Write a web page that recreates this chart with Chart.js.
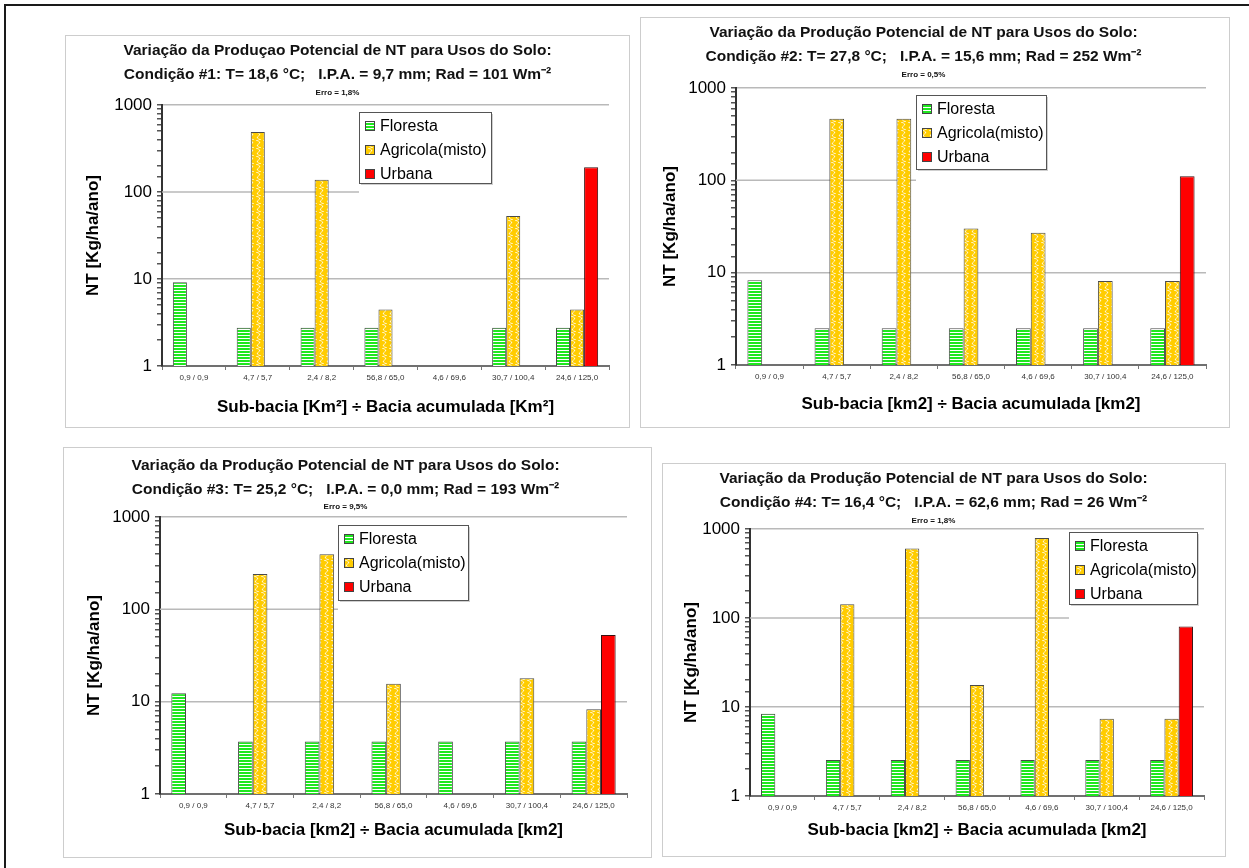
<!DOCTYPE html>
<html>
<head>
<meta charset="utf-8">
<script src="https://cdn.jsdelivr.net/npm/chart.js@4.4.0/dist/chart.umd.min.js"></script>
<style>
  body { margin: 0; background: #fff; width: 1249px; height: 868px; position: relative; overflow: hidden; }
  .outer { position: absolute; left: 4px; top: 4px; width: 1300px; height: 900px; border-left: 2px solid #1a1a1a; border-top: 2px solid #1a1a1a; }
  .panel { position: absolute; border: 1px solid #cdcdcd; background: #fff; }
  .panel canvas { display: block; }
</style>
</head>
<body>
<div class="outer"></div>
<div class="panel" id="p1"><canvas id="c1"></canvas></div>
<div class="panel" id="p2"><canvas id="c2"></canvas></div>
<div class="panel" id="p3"><canvas id="c3"></canvas></div>
<div class="panel" id="p4"><canvas id="c4"></canvas></div>
<script>
// dados
const categories = ["0,9 / 0,9", "4,7 / 5,7", "2,4 / 8,2", "56,8 / 65,0", "4,6 / 69,6", "30,7 / 100,4", "24,6 / 125,0"];
const seriesNames = ["Floresta", "Agricola(misto)", "Urbana"];
const yTicks = [1, 10, 100, 1000];

const floresta1 = [9.2, 2.75, 2.75, 2.75, null, 2.75, 2.75];
const agricola1 = [null, 490, 138, 4.45, null, 53, 4.45];
const urbana1   = [null, null, null, null, null, null, 192];

const floresta2 = [8.3, 2.5, 2.5, 2.5, 2.5, 2.5, 2.5];
const agricola2 = [null, 465, 465, 30, 27, 8.1, 8.1];
const urbana2   = [null, null, null, null, null, null, 111];

const floresta3 = [12.3, 3.7, 3.7, 3.7, 3.7, 3.7, 3.7];
const agricola3 = [null, 241, 395, 15.6, null, 17.9, 8.3];
const urbana3   = [null, null, null, null, null, null, 52.6];

const floresta4 = [8.4, 2.53, 2.53, 2.53, 2.53, 2.53, 2.53];
const agricola4 = [null, 143, 604, 17.7, 794, 7.36, 7.36];
const urbana4   = [null, null, null, null, null, null, 80];

const titles1 = ["Variação da Produçao Potencial de NT para Usos do Solo:", "Condição #1: T= 18,6 °C;   I.P.A. = 9,7 mm; Rad = 101 Wm⁻²"];
const titles2 = ["Variação da Produção Potencial de NT para Usos do Solo:", "Condição #2: T= 27,8 °C;   I.P.A. = 15,6 mm; Rad = 252 Wm⁻²"];
const titles3 = ["Variação da Produção Potencial de NT para Usos do Solo:", "Condição #3: T= 25,2 °C;   I.P.A. = 0,0 mm; Rad = 193 Wm⁻²"];
const titles4 = ["Variação da Produção Potencial de NT para Usos do Solo:", "Condição #4: T= 16,4 °C;   I.P.A. = 62,6 mm; Rad = 26 Wm⁻²"];
const erros = ["Erro = 1,8%", "Erro = 0,5%", "Erro = 9,5%", "Erro = 1,8%"];
const yTitle = "NT [Kg/ha/ano]";
const xTitleKm = "Sub-bacia [Km²] ÷ Bacia acumulada [Km²]";
const xTitlekm = "Sub-bacia [km2] ÷ Bacia acumulada [km2]";

Chart.defaults.font.family = '"Liberation Sans", Arial, sans-serif';
Chart.defaults.color = "#000";

// posição de cada quadro na página
const panels = [
  { id: "1", left: 65, top: 35, w: 565, h: 393, plot: { l: 96, r: 20, b: 61 }, t1: 15, te: 57, pt: 69, yt: 27, xt: 20,
    legend: { x: 293, y: 76, w: 132, h: 71 }, titles: titles1, erro: erros[0], xTitle: xTitleKm,
    data: [floresta1, agricola1, urbana1] },
  { id: "2", left: 640, top: 17, w: 590, h: 411, plot: { l: 95, r: 23, b: 62 }, t1: 15, te: 57, pt: 70, yt: 29, xt: 23,
    legend: { x: 275, y: 77, w: 130, h: 74 }, titles: titles2, erro: erros[1], xTitle: xTitlekm,
    data: [floresta2, agricola2, urbana2] },
  { id: "3", left: 63, top: 447, w: 589, h: 411, plot: { l: 96, r: 24, b: 63 }, t1: 18, te: 59, pt: 69, yt: 30, xt: 27,
    legend: { x: 274, y: 77, w: 130, h: 75 }, titles: titles3, erro: erros[2], xTitle: xTitlekm,
    data: [floresta3, agricola3, urbana3] },
  { id: "4", left: 662, top: 463, w: 564, h: 394, plot: { l: 87, r: 21, b: 60 }, t1: 15, te: 57, pt: 65, yt: 28, xt: 26,
    legend: { x: 406, y: 68, w: 128, h: 72 }, titles: titles4, erro: erros[3], xTitle: xTitlekm,
    data: [floresta4, agricola4, urbana4] }
];

function makePatterns(ctx) {
  const s = document.createElement("canvas");
  s.width = 4; s.height = 3;
  const g = s.getContext("2d");
  g.fillStyle = "#1ee81e"; g.fillRect(0, 0, 4, 3);
  g.fillStyle = "#ffffff"; g.fillRect(0, 2, 4, 1);

  const w = document.createElement("canvas");
  w.width = 7; w.height = 8;
  const h = w.getContext("2d");
  h.fillStyle = "#ffcc00"; h.fillRect(0, 0, 7, 8);
  h.strokeStyle = "rgba(255,255,255,0.85)"; h.lineWidth = 1;
  h.beginPath();
  h.moveTo(1, 0);
  h.quadraticCurveTo(7, 2, 3.5, 4);
  h.quadraticCurveTo(0, 6, 6, 8);
  h.stroke();

  return [ctx.createPattern(s, "repeat"), ctx.createPattern(w, "repeat"), "#ff0000"];
}

const isMajor = v => Math.abs(Math.log10(v) - Math.round(Math.log10(v))) < 1e-9;

// legenda com moldura dentro da área do gráfico + grade de 100 cortada
const boxLegend = {
  id: "boxLegend",
  beforeDatasetsDraw(chart, args, opts) {
    const ctx = chart.ctx;
    const y = chart.scales.y.getPixelForValue(100);
    ctx.save();
    ctx.strokeStyle = "#b9b9b9"; ctx.lineWidth = 1.5;
    ctx.beginPath(); ctx.moveTo(chart.chartArea.left, y); ctx.lineTo(opts.x, y); ctx.stroke();
    ctx.restore();
  },
  afterDatasetsDraw(chart, args, opts) {
    const ctx = chart.ctx;
    ctx.save();
    ctx.fillStyle = "#cfcfcf";
    ctx.fillRect(opts.x + 2, opts.y + 2, opts.w, opts.h);
    ctx.fillStyle = "#fff";
    ctx.fillRect(opts.x, opts.y, opts.w, opts.h);
    ctx.strokeStyle = "#555"; ctx.lineWidth = 1;
    ctx.strokeRect(opts.x + 0.5, opts.y + 0.5, opts.w, opts.h);
    ctx.font = '16px "Liberation Sans", Arial, sans-serif';
    ctx.textBaseline = "middle";
    chart.data.datasets.forEach((ds, i) => {
      const cy = opts.y + 14 + i * 24;
      ctx.fillStyle = ds.backgroundColor;
      ctx.fillRect(opts.x + 6, cy - 5, 10, 10);
      ctx.strokeStyle = "#444";
      ctx.strokeRect(opts.x + 6.5, cy - 4.5, 9, 9);
      ctx.fillStyle = "#000";
      ctx.fillText(ds.label, opts.x + 21, cy + 1);
    });
    ctx.restore();
  }
};

panels.forEach(p => {
  const div = document.getElementById("p" + p.id);
  div.style.left = p.left + "px"; div.style.top = p.top + "px";
  div.style.width = (p.w - 2) + "px"; div.style.height = (p.h - 2) + "px";
  const canvas = document.getElementById("c" + p.id);
  canvas.width = p.w - 2; canvas.height = p.h - 2;
  const ctx = canvas.getContext("2d");
  const fills = makePatterns(ctx);
  const borders = ["#4a4a4a", "#4a4a4a", "#3a1010"];

  new Chart(ctx, {
    type: "bar",
    data: {
      labels: categories,
      datasets: seriesNames.map((name, i) => ({
        label: name,
        data: p.data[i],
        backgroundColor: fills[i],
        borderColor: borders[i],
        borderWidth: 1,
        categoryPercentage: 0.66,
        barPercentage: 1.0
      }))
    },
    options: {
      responsive: false,
      animation: false,
      layout: { padding: { top: 0, right: p.plot.r, bottom: 0, left: 0 } },
      plugins: {
        legend: { display: false },
        tooltip: { enabled: false },
        title: {
          display: true,
          text: p.titles,
          color: "#111",
          font: { size: 15.5, weight: "bold", lineHeight: 24 / 15.5 },
          padding: { top: p.t1 - 12, bottom: 0 }
        },
        subtitle: {
          display: true,
          text: p.erro,
          color: "#111",
          font: { size: 8, weight: "bold", lineHeight: 10 / 8 },
          padding: { top: Math.max(0, p.te - p.t1 - 41), bottom: p.pt - p.te - 5 }
        },
        boxLegend: p.legend
      },
      scales: {
        x: {
          offset: true,
          afterFit(s) { s.height = p.plot.b; },
          border: { display: true, color: "#707070", width: 2 },
          grid: { display: true, drawOnChartArea: false, offset: true, tickLength: 4, tickColor: "#777" },
          ticks: { font: { size: 8 }, color: "#333", padding: 3, maxRotation: 0, autoSkip: false },
          title: { display: true, text: p.xTitle, color: "#000", font: { size: 17, weight: "bold" }, padding: { top: 0, bottom: p.xt - 10.2 } }
        },
        y: {
          type: "logarithmic",
          min: 1,
          max: 1000,
          afterFit(s) { s.width = p.plot.l; },
          border: { display: true, color: "#333", width: 2 },
          grid: {
            color: c => (c.tick && isMajor(c.tick.value) && c.tick.value !== 1 && c.tick.value !== 100) ? "#b9b9b9" : "rgba(0,0,0,0)",
            lineWidth: 1.5,
            tickColor: "#555",
            tickLength: 5
          },
          ticks: {
            autoSkip: false,
            padding: 5,
            font: { size: 17 },
            color: "#000",
            callback: v => yTicks.includes(v) ? String(v) : ""
          },
          title: { display: true, text: yTitle, color: "#000", font: { size: 17, weight: "bold" }, padding: { top: p.yt - 10.2, bottom: 0 } }
        }
      }
    },
    plugins: [boxLegend]
  });
});
</script>
</body>
</html>
